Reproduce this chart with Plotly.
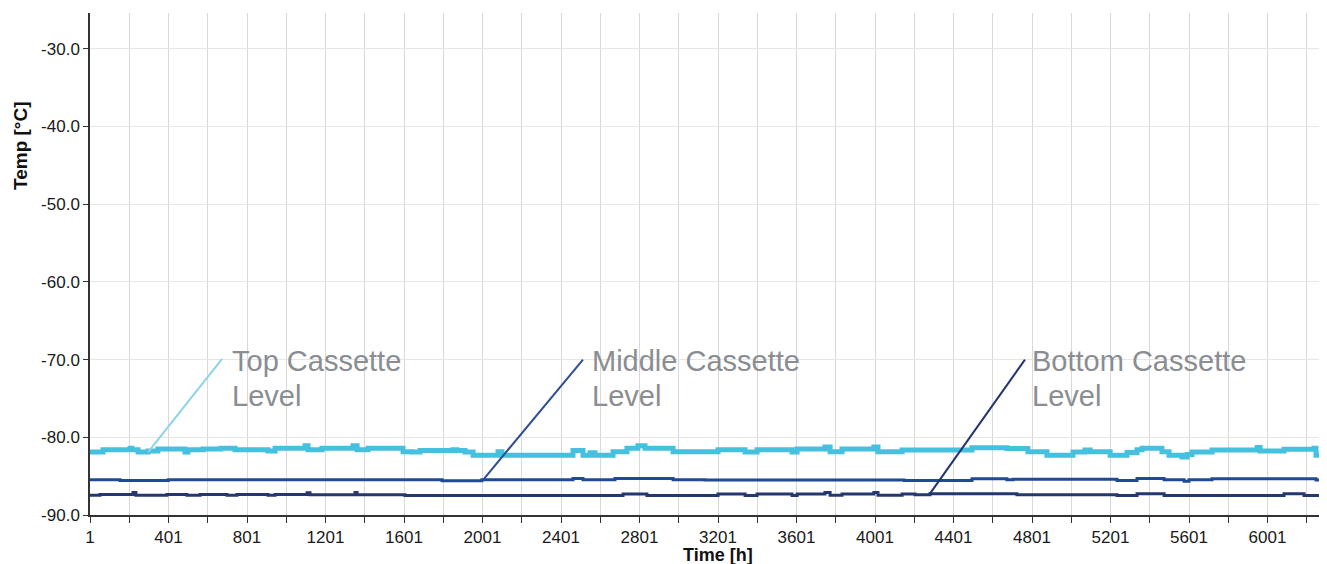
import plotly.graph_objects as go

# ---------------- data ----------------
top_hours = [1, 67, 205, 215, 246, 297, 347, 485, 500, 577, 668, 740, 908, 944, 1097, 1112,
             1183, 1341, 1362, 1418, 1596, 1642, 1683, 1850, 1870, 1912, 1953, 2080, 2100,
             2462, 2513, 2549, 2574, 2666, 2737, 2793, 2829, 2972, 3201, 3339, 3400, 3578,
             3604, 3746, 3772, 3833, 3995, 4016, 4139, 4495, 4673, 4780, 4877, 5010, 5071,
             5097, 5199, 5285, 5336, 5362, 5463, 5499, 5565, 5591, 5616, 5718, 5948, 5963,
             6085, 6238, 6248, 6304]
top_temp = [-81.9, -81.6, -81.4, -81.6, -81.9, -81.75, -81.5, -81.9, -81.6, -81.5, -81.4, -81.6,
            -81.75, -81.4, -81.1, -81.6, -81.4, -81.1, -81.6, -81.4, -81.85, -81.9, -81.7,
            -81.6, -81.7, -81.9, -82.3, -81.85, -82.3, -81.7, -82.3, -82.0, -82.3, -81.85,
            -81.4, -81.1, -81.4, -81.85, -81.6, -81.9, -81.6, -81.9, -81.5, -81.25, -81.85,
            -81.5, -81.25, -81.85, -81.65, -81.35, -81.45, -81.85, -82.3, -81.9, -81.65,
            -81.85, -82.3, -81.95, -81.6, -81.4, -81.85, -82.3, -82.55, -82.2, -81.9, -81.65,
            -81.3, -81.75, -81.55, -81.4, -82.3, -82.3]

mid_hours = [1, 154, 400, 1795, 1998, 2462, 2513, 2676, 2972, 3135, 4150, 4495, 4673, 4704,
             5234, 5336, 5474, 5576, 5601, 5718, 6248, 6304]
mid_temp = [-85.45, -85.55, -85.45, -85.6, -85.45, -85.3, -85.45, -85.3, -85.45, -85.5, -85.55,
            -85.35, -85.45, -85.4, -85.55, -85.3, -85.45, -85.65, -85.45, -85.35, -85.5, -85.5]

bot_hours = [1, 52, 220, 235, 393, 495, 562, 699, 750, 908, 944, 1107, 1122, 1351, 1362, 1606,
             2717, 2839, 3201, 3339, 3400, 3578, 3604, 3746, 3772, 3833, 3995, 4016, 4139,
             4205, 4281, 4724, 5234, 5336, 5474, 6085, 6187, 6304]
bot_temp = [-87.45, -87.35, -87.1, -87.45, -87.35, -87.45, -87.35, -87.45, -87.35, -87.45,
            -87.35, -87.15, -87.4, -87.1, -87.4, -87.5, -87.3, -87.5, -87.3, -87.5, -87.3,
            -87.5, -87.3, -87.1, -87.45, -87.3, -87.1, -87.45, -87.3, -87.4, -87.25, -87.4,
            -87.5, -87.25, -87.5, -87.25, -87.5, -87.5]

label_line1 = ["Top Cassette", "Middle Cassette", "Bottom Cassette"]
label_line2 = ["Level", "Level", "Level"]
pointer_from_hour = [297, 2003, 4281]
pointer_from_temp = [-81.9, -85.5, -87.25]
pointer_to_hour = [674, 2513, 4765]
pointer_to_temp = [-69.9, -70.0, -70.0]
label_hour = [712, 2551, 4793]
label_line1_temp = -70.15
label_line2_temp = -74.65

x_end = 6304
y_tick_values = [-90, -80, -70, -60, -50, -40, -30]
y_tick_text = ["-90.0", "-80.0", "-70.0", "-60.0", "-50.0", "-40.0", "-30.0"]

# ---------------- styling ----------------
top_color = "#45C0DE"
mid_color = "#1F4A94"
bot_color = "#25376F"
pointer_colors = ["#8DD3EC", "#2B4E96", "#22336F"]
font_family = "Liberation Sans, Arial, Helvetica, sans-serif"
label_font = dict(family=font_family, size=29, color="#8A8D91")

fig = go.Figure()
fig.add_trace(go.Scatter(x=bot_hours, y=bot_temp, mode="lines",
                         line=dict(shape="hv", color=bot_color, width=3), showlegend=False))
fig.add_trace(go.Scatter(x=mid_hours, y=mid_temp, mode="lines",
                         line=dict(shape="hv", color=mid_color, width=3), showlegend=False))
fig.add_trace(go.Scatter(x=top_hours, y=top_temp, mode="lines",
                         line=dict(shape="hv", color=top_color, width=5), showlegend=False))

for i in range(3):
    fig.add_shape(type="line", xref="x", yref="y",
                  x0=pointer_from_hour[i], y0=pointer_from_temp[i],
                  x1=pointer_to_hour[i], y1=pointer_to_temp[i],
                  line=dict(color=pointer_colors[i], width=2))
    fig.add_annotation(x=label_hour[i], y=label_line1_temp, xref="x", yref="y",
                       text=label_line1[i], showarrow=False, xanchor="left", yanchor="middle",
                       align="left", font=label_font)
    fig.add_annotation(x=label_hour[i], y=label_line2_temp, xref="x", yref="y",
                       text=label_line2[i], showarrow=False, xanchor="left", yanchor="middle",
                       align="left", font=label_font)

fig.add_annotation(text="<b>Temp [°C]</b>", xref="paper", yref="paper", x=-0.0566, y=0.737,
                   textangle=-90, showarrow=False, xanchor="center", yanchor="middle",
                   font=dict(family=font_family, size=19, color="#111"))
fig.add_annotation(text="<b>Time [h]</b>", xref="paper", yref="paper", x=0.5077, y=-0.0797,
                   showarrow=False, xanchor="center", yanchor="middle",
                   font=dict(family=font_family, size=18, color="#111"))

# page body has an 8px margin: the figure is sized/offset so the plot area lands
# at x 90..1327, y 13..515 of the window
fig.update_layout(
    width=1319, height=556,
    margin=dict(l=82, r=0, t=5, b=49),
    paper_bgcolor="white", plot_bgcolor="white",
    font=dict(family=font_family, size=17, color="#1a1a1a"),
    showlegend=False,
)
fig.update_xaxes(range=[1, x_end], tickmode="linear", tick0=1, dtick=400,
                 showgrid=True, gridcolor="#D9D9D9", gridwidth=1,
                 minor=dict(tick0=1, dtick=200, showgrid=True, gridcolor="#D9D9D9",
                            ticks="outside", ticklen=6, tickcolor="#333"),
                 ticks="outside", ticklen=6, tickcolor="#333",
                 showline=True, linecolor="#333", linewidth=1.5, zeroline=False)
fig.update_yaxes(range=[-90, -25.4], tickmode="array", tickvals=y_tick_values,
                 ticktext=y_tick_text, showgrid=True, gridcolor="#E6E6E6",
                 ticks="outside", ticklen=5, tickcolor="#333",
                 showline=True, linecolor="#333", linewidth=1.5, zeroline=False)

fig.write_html("out.html")
